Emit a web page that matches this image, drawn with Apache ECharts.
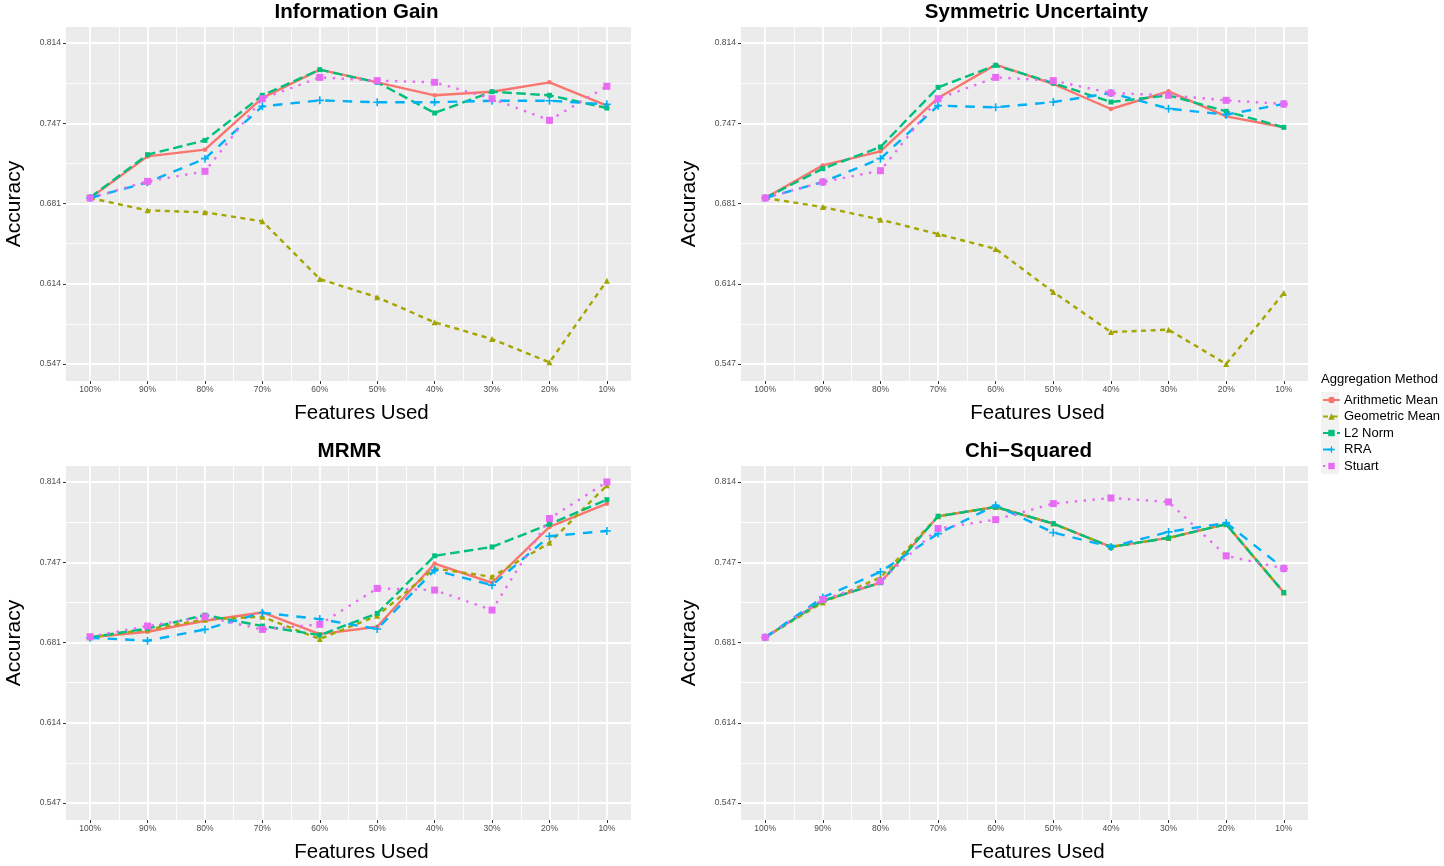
<!DOCTYPE html>
<html>
<head>
<meta charset="utf-8">
<script src="https://cdn.jsdelivr.net/npm/echarts@6.0.0/dist/echarts.min.js"></script>
<style>
html,body{margin:0;padding:0;background:#fff;}
#chart{width:1444px;height:866px;}
</style>
</head>
<body>
<div id="chart"></div>
<script>
// ---------- data ----------
const categories = ['100%','90%','80%','70%','60%','50%','40%','30%','20%','10%'];
const yBreaks = [0.547, 0.61375, 0.6805, 0.74725, 0.814];
const yTickLabels = ['0.547','0.614','0.681','0.747','0.814'];
const methods = ['Arithmetic Mean','Geometric Mean','L2 Norm','RRA','Stuart'];
const panelTitles = ['Information Gain','Symmetric Uncertainty','MRMR','Chi\u2212Squared'];

const infoGainArith  = [0.6851,0.7197,0.7253,0.7683,0.7918,0.7813,0.7705,0.7735,0.7813,0.7619];
const infoGainGeom   = [0.6851,0.6748,0.6732,0.6657,0.6177,0.6025,0.5817,0.5678,0.5484,0.6163];
const infoGainL2     = [0.6856,0.7211,0.7330,0.7705,0.7918,0.7813,0.7558,0.7735,0.7705,0.7599];
const infoGainRRA    = [0.6851,0.6981,0.7178,0.7613,0.7663,0.7647,0.7647,0.7660,0.7660,0.7630];
const infoGainStuart = [0.6851,0.6989,0.7073,0.7677,0.7854,0.7827,0.7813,0.7677,0.7497,0.7780];

const symUncArith  = [0.6851,0.7122,0.7239,0.7683,0.7960,0.7799,0.7591,0.7738,0.7530,0.7439];
const symUncGeom   = [0.6851,0.6776,0.6671,0.6551,0.6427,0.6069,0.5736,0.5756,0.5470,0.6061];
const symUncL2     = [0.6851,0.7095,0.7275,0.7771,0.7954,0.7807,0.7649,0.7705,0.7572,0.7439];
const symUncRRA    = [0.6851,0.6984,0.7178,0.7619,0.7605,0.7649,0.7724,0.7594,0.7544,0.7633];
const symUncStuart = [0.6851,0.6984,0.7078,0.7677,0.7854,0.7827,0.7724,0.7705,0.7663,0.7633];

const mrmrArith  = [0.6848,0.6895,0.6986,0.7055,0.6875,0.6936,0.7462,0.7302,0.7766,0.7960];
const mrmrGeom   = [0.6848,0.6914,0.6997,0.7019,0.6834,0.7028,0.7421,0.7351,0.7634,0.8112];
const mrmrL2     = [0.6848,0.6922,0.7033,0.6942,0.6867,0.7047,0.7526,0.7600,0.7789,0.7993];
const mrmrRRA    = [0.6845,0.6820,0.6914,0.7053,0.7000,0.6917,0.7407,0.7282,0.7689,0.7733];
const mrmrStuart = [0.6853,0.6942,0.7019,0.6914,0.6956,0.7255,0.7241,0.7075,0.7836,0.8140];

const chiArith  = [0.6848,0.7152,0.7302,0.7855,0.7932,0.7794,0.7600,0.7675,0.7789,0.7221];
const chiGeom   = [0.6848,0.7138,0.7346,0.7855,0.7932,0.7794,0.7600,0.7675,0.7789,0.7221];
const chiL2     = [0.6848,0.7152,0.7302,0.7855,0.7932,0.7794,0.7600,0.7675,0.7789,0.7221];
const chiRRA    = [0.6848,0.7180,0.7393,0.7711,0.7946,0.7719,0.7600,0.7725,0.7800,0.7421];
const chiStuart = [0.6848,0.7163,0.7315,0.7753,0.7827,0.7960,0.8007,0.7974,0.7526,0.7421];

const panels = [
  [infoGainArith, infoGainGeom, infoGainL2, infoGainRRA, infoGainStuart],
  [symUncArith, symUncGeom, symUncL2, symUncRRA, symUncStuart],
  [mrmrArith, mrmrGeom, mrmrL2, mrmrRRA, mrmrStuart],
  [chiArith, chiGeom, chiL2, chiRRA, chiStuart]
];

// ---------- styles ----------
const FONT = "'Liberation Sans', Arial, Helvetica, sans-serif";
const colors = ['#F8766D','#A3A500','#00BF7D','#00B0F6','#E76BF3'];
const LW = 2.4;
const dashes = ['solid', [5,4.5], [9.5,4.5], [9.5,8], [2.4,6.5]];
const plusPath = 'path://M4,0 L6,0 L6,4 L10,4 L10,6 L6,6 L6,10 L4,10 L4,6 L0,6 L0,4 L4,4 Z';
const symbols = ['circle','triangle','rect',plusPath,'rect'];
const symbolSizes = [4.5, 6, 5, 8, 7];

const grids = [
  {left:66, top:27, width:565, height:354},
  {left:741, top:27, width:567, height:354},
  {left:66, top:466, width:565, height:354},
  {left:741, top:466, width:567, height:354}
];
const titleShift = [8, 12, 1, 4];

const xMajor = categories.map((c,i)=>i+1);
const xMinor = categories.slice(1).map((c,i)=>i+1.5);
const yMinor = yBreaks.slice(1).map((b,i)=>(b+yBreaks[i])/2);

const xAxes = [], yAxes = [], series = [], graphics = [];
grids.forEach((g,gi)=>{
  xAxes.push({
    type:'value', gridIndex:gi, min:0.58, max:10.42,
    axisLine:{show:false},
    axisTick:{show:true, customValues:xMajor, length:3, lineStyle:{color:'#333333', width:1}},
    axisLabel:{show:true, customValues:xMajor, formatter:v=>categories[Math.round(v)-1], fontSize:8.5, color:'#4D4D4D', fontFamily:FONT, margin:4},
    splitLine:{show:true, lineStyle:{color:'#FFFFFF', width:1.8}}
  });
  xAxes.push({
    type:'value', gridIndex:gi, min:0.58, max:10.42,
    axisLine:{show:false},
    axisTick:{show:false, customValues:xMinor},
    axisLabel:{show:false, customValues:xMinor},
    splitLine:{show:true, lineStyle:{color:'#FFFFFF', width:0.9}}
  });
  yAxes.push({
    type:'value', gridIndex:gi, min:0.5329, max:0.8273,
    axisLine:{show:false},
    axisTick:{show:true, customValues:yBreaks, length:3, lineStyle:{color:'#333333', width:1}},
    axisLabel:{show:true, customValues:yBreaks, fontSize:8.5, color:'#4D4D4D', fontFamily:FONT, margin:5,
      formatter:v=>{let bi=0,bd=1;yBreaks.forEach((b,i)=>{const d=Math.abs(b-v);if(d<bd){bd=d;bi=i;}});return yTickLabels[bi];}},
    splitLine:{show:true, lineStyle:{color:'#FFFFFF', width:1.8}},
    name:'Accuracy', nameLocation:'middle', nameGap:41, nameRotate:90,
    nameTextStyle:{fontSize:21, color:'#000', fontFamily:FONT}
  });
  yAxes.push({
    type:'value', gridIndex:gi, min:0.5329, max:0.8273,
    axisLine:{show:false},
    axisTick:{show:false, customValues:yMinor},
    axisLabel:{show:false, customValues:yMinor},
    splitLine:{show:true, lineStyle:{color:'#FFFFFF', width:0.9}}
  });
  panels[gi].forEach((vals,mi)=>{
    series.push({
      name:methods[mi], type:'line', xAxisIndex:gi*2, yAxisIndex:gi*2,
      data: vals.map((v,i)=>[i+1, v]),
      symbol:symbols[mi], symbolSize:symbolSizes[mi], showSymbol:true,
      itemStyle:{color:colors[mi]},
      lineStyle:{color:colors[mi], width:LW, type:dashes[mi]},
      z: 3 + mi, silent:true
    });
  });
  graphics.push({type:'text', x:g.left + g.width/2 + titleShift[gi], y:g.top - 15,
    style:{text:panelTitles[gi], font:'bold 20.5px ' + FONT, fill:'#000', textAlign:'center', textVerticalAlign:'middle'}});
  graphics.push({type:'text', x:g.left + g.width/2 + 13, y:g.top + g.height + 32,
    style:{text:'Features Used', font:'20.5px ' + FONT, fill:'#000', textAlign:'center', textVerticalAlign:'middle'}});
});

graphics.push({type:'rect', shape:{x:1321, y:392, width:18, height:82}, style:{fill:'#F2F2F2'}, z:-1});
graphics.push({type:'text', x:1321, y:379,
  style:{text:'Aggregation Method', font:'13px ' + FONT, fill:'#000', textAlign:'left', textVerticalAlign:'middle'}});

const option = {
  animation:false,
  backgroundColor:'#FFFFFF',
  grid: grids.map(g=>Object.assign({show:true, backgroundColor:'#EBEBEB', borderWidth:0}, g)),
  xAxis:xAxes,
  yAxis:yAxes,
  series:series,
  graphic:graphics,
  legend:{
    data:methods, orient:'vertical', left:1322, top:393.5,
    itemWidth:17, itemHeight:8, itemGap:3.5,
    textStyle:{fontSize:13, color:'#000', fontFamily:FONT, padding:[0,0,0,-1]},
    padding:0, selectedMode:false
  }
};
const chart = echarts.init(document.getElementById('chart'), null, {renderer:'canvas'});
chart.setOption(option);
</script>
</body>
</html>
